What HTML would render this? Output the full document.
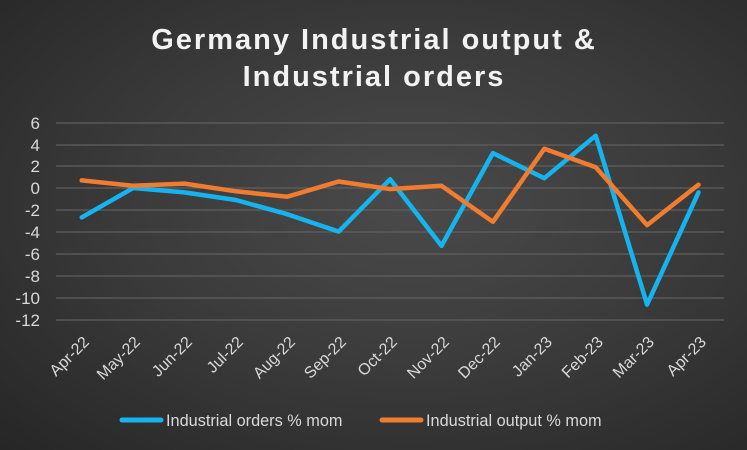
<!DOCTYPE html>
<html><head><style>
html,body{margin:0;padding:0;width:747px;height:450px;overflow:hidden}
body{background:radial-gradient(ellipse at 55% 45%,#4a4a4a 0%,#3a3a3a 50%,#262626 100%)}
text{font-family:"Liberation Sans",sans-serif;fill:#d9d9d9}
</style></head><body>
<svg width="747" height="450" xmlns="http://www.w3.org/2000/svg">
<text x="374" y="49" text-anchor="middle" style="font-size:29px;font-weight:bold;fill:#f2f2f2;letter-spacing:2px">Germany Industrial output &amp;</text>
<text x="374" y="86" text-anchor="middle" style="font-size:29px;font-weight:bold;fill:#f2f2f2;letter-spacing:2px">Industrial orders</text>
<g stroke="#5f5f5f" stroke-width="1.3">
<line x1="56" x2="724" y1="123" y2="123"/><line x1="56" x2="724" y1="145" y2="145"/>
<line x1="56" x2="724" y1="166" y2="166"/><line x1="56" x2="724" y1="188" y2="188"/>
<line x1="56" x2="724" y1="210" y2="210"/><line x1="56" x2="724" y1="232" y2="232"/>
<line x1="56" x2="724" y1="254" y2="254"/><line x1="56" x2="724" y1="276" y2="276"/>
<line x1="56" x2="724" y1="298" y2="298"/><line x1="56" x2="724" y1="320" y2="320"/>
</g>
<g style="font-size:17px" text-anchor="end">
<text x="40" y="129">6</text><text x="40" y="151">4</text><text x="40" y="172">2</text>
<text x="40" y="194">0</text><text x="40" y="216">-2</text><text x="40" y="238">-4</text>
<text x="40" y="260">-6</text><text x="40" y="282">-8</text><text x="40" y="304">-10</text>
<text x="40" y="326">-12</text>
</g>
<g style="font-size:16px" text-anchor="end">
<text transform="translate(90,343) rotate(-45)">Apr-22</text>
<text transform="translate(141,343) rotate(-45)">May-22</text>
<text transform="translate(193,343) rotate(-45)">Jun-22</text>
<text transform="translate(244,343) rotate(-45)">Jul-22</text>
<text transform="translate(296,343) rotate(-45)">Aug-22</text>
<text transform="translate(347,343) rotate(-45)">Sep-22</text>
<text transform="translate(398,343) rotate(-45)">Oct-22</text>
<text transform="translate(450,343) rotate(-45)">Nov-22</text>
<text transform="translate(501,343) rotate(-45)">Dec-22</text>
<text transform="translate(553,343) rotate(-45)">Jan-23</text>
<text transform="translate(604,343) rotate(-45)">Feb-23</text>
<text transform="translate(655,343) rotate(-45)">Mar-23</text>
<text transform="translate(707,343) rotate(-45)">Apr-23</text>
</g>
<polyline fill="none" stroke="#16b4ee" stroke-width="4.5" stroke-linejoin="round" stroke-linecap="round"
points="81.7,217.4 133.1,188 184.5,192.4 235.9,200 287.3,214.2 338.7,231.6 390.1,179.3 441.5,245.8 492.9,153.1 544.3,178.2 595.7,135.7 647.1,304.6 698.5,192.4"/>
<polyline fill="none" stroke="#f07c30" stroke-width="4.5" stroke-linejoin="round" stroke-linecap="round"
points="81.7,180.4 133.1,185.8 184.5,183.6 235.9,191.3 287.3,196.7 338.7,181.5 390.1,189.1 441.5,185.8 492.9,221.8 544.3,148.8 595.7,167.3 647.1,225.1 698.5,184.7"/>
<line x1="122" x2="161" y1="420" y2="420" stroke="#16b4ee" stroke-width="5" stroke-linecap="round"/>
<text x="166" y="426" style="font-size:16.3px">Industrial orders % mom</text>
<line x1="382" x2="421" y1="420" y2="420" stroke="#f07c30" stroke-width="5" stroke-linecap="round"/>
<text x="426" y="426" style="font-size:16.3px">Industrial output % mom</text>
</svg>
</body></html>
